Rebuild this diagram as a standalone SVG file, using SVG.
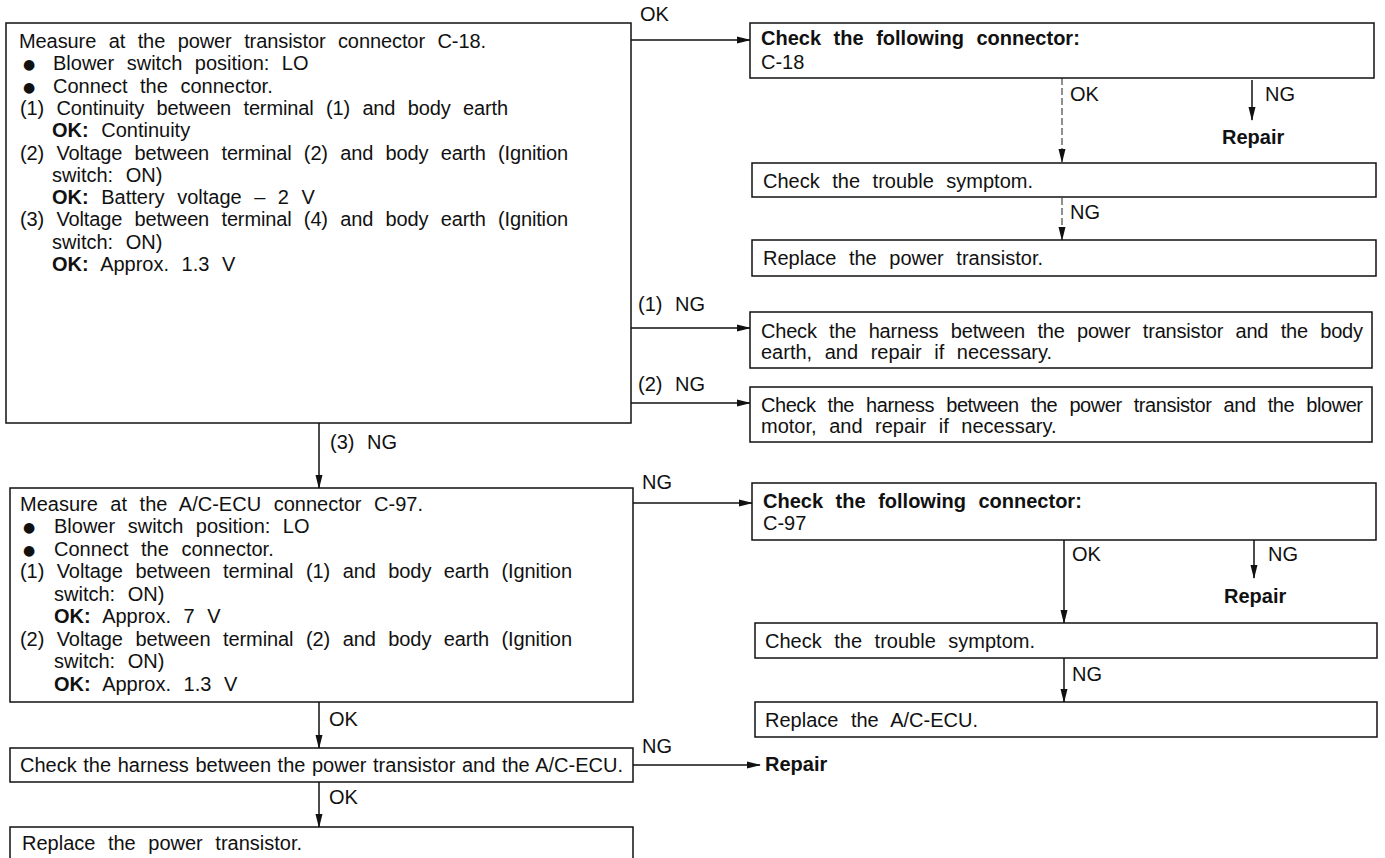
<svg xmlns="http://www.w3.org/2000/svg" width="1385" height="858" viewBox="0 0 1385 858">
<defs>
<marker id="ah" markerWidth="14" markerHeight="8" refX="13" refY="4" orient="auto" markerUnits="userSpaceOnUse">
<path d="M0,0.5 L14,4 L0,7.5 Z" fill="#111"/>
</marker>
<style>
text{font-family:"Liberation Sans",Arial,"Helvetica",sans-serif;font-size:20px;fill:#111;word-spacing:7px}
.b{font-weight:bold}
.t{word-spacing:1px}
.bul{font-size:14px;font-family:"DejaVu Sans",sans-serif}
.box{fill:#fff;stroke:#111;stroke-width:1.5}
.ar{fill:none;stroke:#111;stroke-width:1.5;marker-end:url(#ah)}
.ard{fill:none;stroke:#333;stroke-width:1.1;stroke-dasharray:7 3;marker-end:url(#ah)}
</style>
</defs>
<rect width="1385" height="858" fill="#fff"/>
<g id="connectors">
<polyline class="ar" points="631,40 750,40"/>
<polyline class="ard" points="1062,78 1062,162"/>
<polyline class="ar" points="1252,80 1252,120"/>
<polyline class="ard" points="1062,198 1062,240"/>
<polyline class="ar" points="631,328 750,328"/>
<polyline class="ar" points="631,403 750,403"/>
<polyline class="ar" points="319,423 319,488"/>
<polyline class="ar" points="633,503 752,503"/>
<polyline class="ar" points="1064,540 1064,623"/>
<polyline class="ar" points="1254,540 1254,578"/>
<polyline class="ar" points="1064,658 1064,702"/>
<polyline class="ar" points="319,702 319,748"/>
<polyline class="ar" points="633,765 760,765"/>
<polyline class="ar" points="319,782 319,827"/>
<text x="640" y="21">OK</text>
<text x="1070" y="101">OK</text>
<text x="1265" y="101">NG</text>
<text x="1070" y="219">NG</text>
<text x="638" y="311">(1) NG</text>
<text x="638" y="391">(2) NG</text>
<text x="330" y="449">(3) NG</text>
<text x="642" y="489">NG</text>
<text x="1072" y="561">OK</text>
<text x="1268" y="561">NG</text>
<text x="1072" y="681">NG</text>
<text x="329" y="726">OK</text>
<text x="642" y="753">NG</text>
<text x="329" y="804">OK</text>
</g>
<g id="boxA">
<rect class="box" x="6" y="23" width="625" height="400"/>
<text x="19" y="48" textLength="467" lengthAdjust="spacing">Measure at the power transistor connector C-18.</text>
<text class="bul" x="23" y="69">●</text><text x="53" y="70">Blower switch position: LO</text>
<text class="bul" x="23" y="92">●</text><text x="53" y="93">Connect the connector.</text>
<text x="20" y="115" textLength="488" lengthAdjust="spacing">(1) Continuity between terminal (1) and body earth</text>
<text x="52" y="137"><tspan class="b">OK:</tspan> Continuity</text>
<text x="20" y="160" textLength="548" lengthAdjust="spacing">(2) Voltage between terminal (2) and body earth (Ignition</text>
<text x="52" y="182">switch: ON)</text>
<text x="52" y="204"><tspan class="b">OK:</tspan> Battery voltage – 2 V</text>
<text x="20" y="226" textLength="548" lengthAdjust="spacing">(3) Voltage between terminal (4) and body earth (Ignition</text>
<text x="52" y="249">switch: ON)</text>
<text x="52" y="271"><tspan class="b">OK:</tspan> Approx. 1.3 V</text>
</g>
<g id="boxB">
<rect class="box" x="750" y="23" width="624" height="55"/>
<text class="b" x="761" y="45">Check the following connector:</text>
<text x="761" y="69">C-18</text>
</g>
<g id="repair1"><text class="b" x="1222" y="144">Repair</text></g>
<g id="boxC">
<rect class="box" x="752" y="163" width="624" height="34"/>
<text x="763" y="188">Check the trouble symptom.</text>
</g>
<g id="boxD">
<rect class="box" x="752" y="240" width="624" height="36"/>
<text x="763" y="265">Replace the power transistor.</text>
</g>
<g id="boxF">
<rect class="box" x="750" y="312" width="622" height="56"/>
<text x="761" y="338" textLength="602" lengthAdjust="spacing">Check the harness between the power transistor and the body</text>
<text x="761" y="359">earth, and repair if necessary.</text>
</g>
<g id="boxG">
<rect class="box" x="750" y="387" width="622" height="55"/>
<text x="761" y="412" textLength="602" lengthAdjust="spacing">Check the harness between the power transistor and the blower</text>
<text x="761" y="433">motor, and repair if necessary.</text>
</g>
<g id="boxE">
<rect class="box" x="10" y="488" width="623" height="214"/>
<text x="20" y="511">Measure at the A/C-ECU connector C-97.</text>
<text class="bul" x="23" y="532">●</text><text x="54" y="533">Blower switch position: LO</text>
<text class="bul" x="23" y="555">●</text><text x="54" y="556">Connect the connector.</text>
<text x="20" y="578" textLength="552" lengthAdjust="spacing">(1) Voltage between terminal (1) and body earth (Ignition</text>
<text x="54" y="601">switch: ON)</text>
<text x="54" y="623"><tspan class="b">OK:</tspan> Approx. 7 V</text>
<text x="20" y="646" textLength="552" lengthAdjust="spacing">(2) Voltage between terminal (2) and body earth (Ignition</text>
<text x="54" y="668">switch: ON)</text>
<text x="54" y="691"><tspan class="b">OK:</tspan> Approx. 1.3 V</text>
</g>
<g id="boxH">
<rect class="box" x="752" y="483" width="624" height="57"/>
<text class="b" x="763" y="508">Check the following connector:</text>
<text x="763" y="530">C-97</text>
</g>
<g id="repair2"><text class="b" x="1224" y="603">Repair</text></g>
<g id="boxI">
<rect class="box" x="755" y="623" width="622" height="35"/>
<text x="765" y="648">Check the trouble symptom.</text>
</g>
<g id="boxJ">
<rect class="box" x="755" y="702" width="622" height="35"/>
<text x="765" y="727">Replace the A/C-ECU.</text>
</g>
<g id="boxK">
<rect class="box" x="10" y="748" width="623" height="34"/>
<text class="t" x="20" y="772" textLength="603" lengthAdjust="spacing">Check the harness between the power transistor and the A/C-ECU.</text>
</g>
<g id="repair3"><text class="b" x="765" y="771">Repair</text></g>
<g id="boxL">
<rect class="box" x="10" y="827" width="623" height="40"/>
<text x="22" y="850">Replace the power transistor.</text>
</g>
</svg>
